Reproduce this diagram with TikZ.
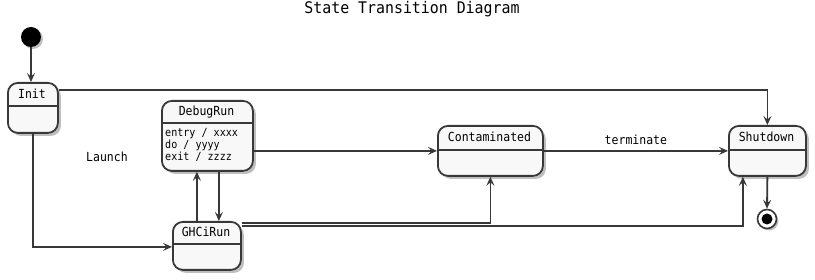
\documentclass[tikz,border=0pt]{standalone}
\usepackage{fontspec}
\usetikzlibrary{arrows.meta,shadows,positioning}
\newfontfamily\umlfont[FakeStretch=0.92]{DejaVu Sans Mono}
\newfontfamily\umltitlefont[FakeStretch=0.93]{DejaVu Sans Mono}
\newfontfamily\umlsmallfont[FakeStretch=0.9]{DejaVu Sans Mono}
\definecolor{umlline}{HTML}{383838}
\definecolor{umlfill}{HTML}{F8F8F8}
\tikzset{
  statebox/.style={draw=umlline, fill=umlfill, line width=1.8pt, rounded corners=10pt,
    anchor=north west, inner sep=0pt,
    drop shadow={shadow xshift=3pt, shadow yshift=-3pt, fill=black, opacity=0.25}},
  statename/.style={font=\umlfont\fontsize{12.5}{14}\selectfont, inner sep=0pt, text=black},
  stateacts/.style={font=\umlsmallfont\fontsize{11.2}{11.8}\selectfont, inner sep=0pt,
    align=left, anchor=north west, text=black},
  sep/.style={draw=umlline, line width=1.5pt},
  trans/.style={draw=umlline, line width=1.8pt, -{Stealth[length=9pt, width=8pt, inset=3.5pt]}},
  elabel/.style={font=\umlfont\fontsize{12.5}{14}\selectfont, inner sep=0pt, text=black},
}
\begin{document}
\begin{tikzpicture}[x=1pt, y=-1pt]
\useasboundingbox (0,0) rectangle (815,280);

% title
\node[font=\umltitlefont\fontsize{16}{18}\selectfont, inner sep=0pt] (title) at (412,9) {State Transition Diagram};

% initial and final pseudo-states
\node[circle, fill=black, minimum size=20pt, inner sep=0pt,
  drop shadow={shadow xshift=2pt, shadow yshift=-2pt, fill=black, opacity=0.25}] (start) at (31,37) {};
\node[circle, draw=umlline, fill=white, line width=1.6pt, minimum size=19pt, inner sep=0pt,
  drop shadow={shadow xshift=2pt, shadow yshift=-2pt, fill=black, opacity=0.25}] (stop) at (767,219) {};
\node[circle, fill=black, minimum size=11pt, inner sep=0pt] (stopdot) at (stop.center) {};

% Init
\node[statebox, minimum width=50pt, minimum height=50pt] (init) at (7,82) {};
\node[statename] (initname) at (32,94) {Init};
\draw[sep] (7,106) -- (57,106);

% DebugRun
\node[statebox, minimum width=91pt, minimum height=70pt] (debug) at (161,100) {};
\node[statename] (debugname) at (206.5,112) {DebugRun};
\draw[sep] (161,123) -- (252,123);
\node[stateacts] (debugacts) at (165,128.5) {entry / xxxx\\do / yyyy\\exit / zzzz};

% GHCiRun
\node[statebox, minimum width=68pt, minimum height=48pt] (ghci) at (172,221) {};
\node[statename] (ghciname) at (206,232) {GHCiRun};
\draw[sep] (172,244) -- (240,244);

% Contaminated
\node[statebox, minimum width=105pt, minimum height=50pt] (cont) at (437,125) {};
\node[statename] (contname) at (489.5,137) {Contaminated};
\draw[sep] (437,150) -- (542,150);

% Shutdown
\node[statebox, minimum width=77pt, minimum height=50pt] (shut) at (728,125) {};
\node[statename] (shutname) at (766.5,137) {Shutdown};
\draw[sep] (728,150) -- (805,150);

% transitions
\draw[trans] (start) -- (init.north -| start);
\draw[trans] ([yshift=-8pt]init.north east) -| (shut.north);
\draw[trans] (init.south) |- ([yshift=-1pt]ghci.west);
\node[elabel] (launch) at (107,157) {Launch};
\draw[trans] ([xshift=-10pt]ghci.north) -- ([xshift=-10.5pt]debug.south);
\draw[trans] ([xshift=11.5pt]debug.south) -- ([xshift=12pt]ghci.north);
\draw[trans] (debug.east |- cont.west) -- (cont.west);
\draw[trans] (cont.east) -- node[elabel, above=5pt] (termlabel) {terminate} (shut.west);
\draw[trans] ([yshift=-2pt]ghci.north east) -| (cont.south);
\draw[trans] ([yshift=-5pt]ghci.north east) -| ([xshift=-24.5pt]shut.south);
\draw[trans] (shut.south) -- (stop.north);
\end{tikzpicture}
\end{document}
